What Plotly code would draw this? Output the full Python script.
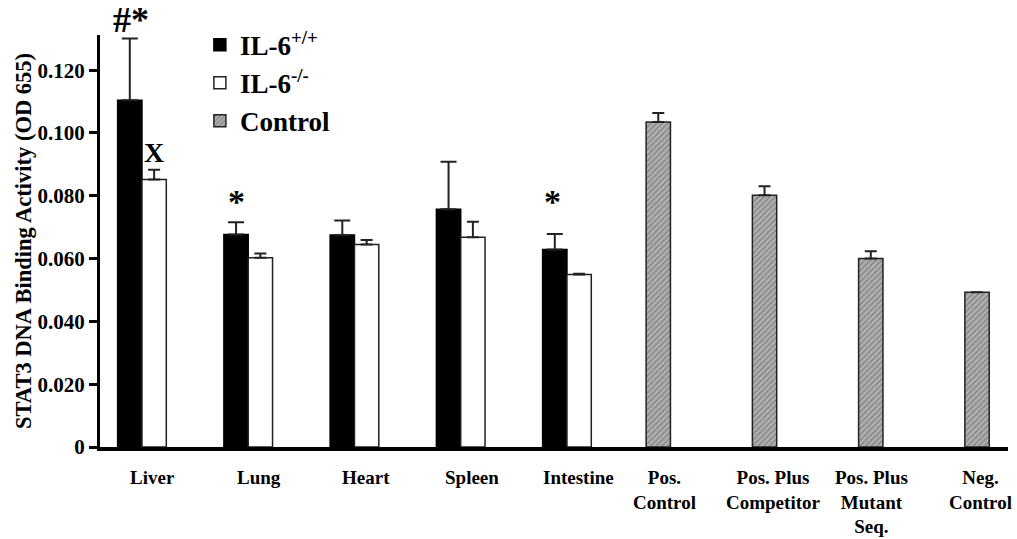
import plotly.graph_objects as go

categories = ["Liver", "Lung", "Heart", "Spleen", "Intestine",
              "Pos. Control", "Pos. Plus Competitor", "Pos. Plus Mutant Seq.", "Neg. Control"]
tissue_cats = categories[:5]
control_cats = categories[5:]

il6_wt = [0.1104, 0.0677, 0.0675, 0.0757, 0.0629]
il6_wt_err = [0.0197, 0.0039, 0.0046, 0.0151, 0.0049]
il6_ko = [0.0852, 0.0603, 0.0645, 0.0668, 0.0549]
il6_ko_err = [0.0031, 0.0013, 0.0014, 0.0049, 0.0003]
control = [0.1035, 0.0802, 0.0600, 0.0493]
control_err = [0.0029, 0.0028, 0.0023, 0.0]

tick_vals = [0, 0.02, 0.04, 0.06, 0.08, 0.10, 0.12]
tick_text = ["0", "0.020", "0.040", "0.060", "0.080", "0.100", "0.120"]

x_labels = ["Liver", "Lung", "Heart", "Spleen", "Intestine",
            "Pos.<br>Control", "Pos. Plus<br>Competitor", "Pos. Plus<br>Mutant<br>Seq.", "Neg.<br>Control"]
x_label_shift = [11, 11, 12, 11, 12, -9, -6, -14, -11]

FONT = "Liberation Serif"
BW = 0.229

fig = go.Figure()
fig.add_trace(go.Bar(
    name="IL-6<sup>+/+</sup>", x=tissue_cats, y=il6_wt, width=BW, offset=-BW,
    marker=dict(color="black", line=dict(color="black", width=1.5)),
    error_y=dict(type="data", symmetric=False, array=il6_wt_err, arrayminus=[0] * 5,
                 color="#222", thickness=2, width=8),
))
fig.add_trace(go.Bar(
    name="IL-6<sup>-/-</sup>", x=tissue_cats, y=il6_ko, width=BW, offset=0,
    marker=dict(color="white", line=dict(color="#222", width=1.5)),
    error_y=dict(type="data", symmetric=False, array=il6_ko_err, arrayminus=[0] * 5,
                 color="#222", thickness=2, width=6),
))
fig.add_trace(go.Bar(
    name="Control", x=control_cats, y=control, width=BW, offset=-0.255,
    marker=dict(color="#ababab", line=dict(color="#222", width=1.5),
                pattern=dict(shape="/", fgcolor="#555", bgcolor="#b0b0b0", size=4, solidity=0.35)),
    error_y=dict(type="data", symmetric=False, array=control_err, arrayminus=[0] * 4,
                 color="#222", thickness=2, width=6),
))

annotations = []
for cat, lab, sh in zip(categories, x_labels, x_label_shift):
    annotations.append(dict(x=cat, xref="x", y=0, yref="paper", yanchor="top", yshift=-18,
                            xshift=sh, text=lab, showarrow=False, align="center",
                            font=dict(family=FONT, size=19, color="black", weight="bold")))

marks = [("#*", "Liver", -11, 0.1301, 36, -4), ("X", "Liver", 12, 0.0883, 28, 0),
         ("*", "Lung", -12, 0.0716, 34, 0), ("*", "Intestine", -14, 0.0678, 34, 12)]
for txt, cat, sh, yv, fs, ys in marks:
    annotations.append(dict(x=cat, xref="x", y=yv, yref="y", yanchor="bottom", yshift=ys,
                            xshift=sh, text=txt, showarrow=False,
                            font=dict(family=FONT, size=fs, color="black", weight="bold")))

fig.update_layout(
    width=1017, height=539,
    margin=dict(l=100, r=9, t=35, b=92),
    paper_bgcolor="white", plot_bgcolor="white",
    barmode="overlay",
    font=dict(family=FONT, color="black"),
    showlegend=True,
    legend=dict(x=0.11, y=1.035, xanchor="left", yanchor="top",
                font=dict(family=FONT, size=27, color="black", weight="bold"),
                bgcolor="rgba(0,0,0,0)", tracegroupgap=0),
    annotations=annotations,
)
fig.update_xaxes(
    type="category", categoryorder="array", categoryarray=categories,
    range=[-0.395, 8.151], showticklabels=False, ticks="", automargin=False,
    showline=True, linecolor="black", linewidth=4, showgrid=False, zeroline=False,
)
fig.update_yaxes(
    range=[0, 0.1312], tickvals=tick_vals, ticktext=tick_text, automargin=False,
    ticks="outside", ticklen=8, tickwidth=3, tickcolor="black",
    showline=True, linecolor="black", linewidth=3, showgrid=False, zeroline=False,
    tickfont=dict(family=FONT, size=21, color="black", weight="bold"),
    title=dict(text="STAT3 DNA Binding Activity (OD 655)",
               font=dict(family=FONT, size=22.5, color="black", weight="bold"), standoff=0),
)

fig.write_html("out.html", config={"displayModeBar": False},
               post_script="document.body.style.margin='0px';")
